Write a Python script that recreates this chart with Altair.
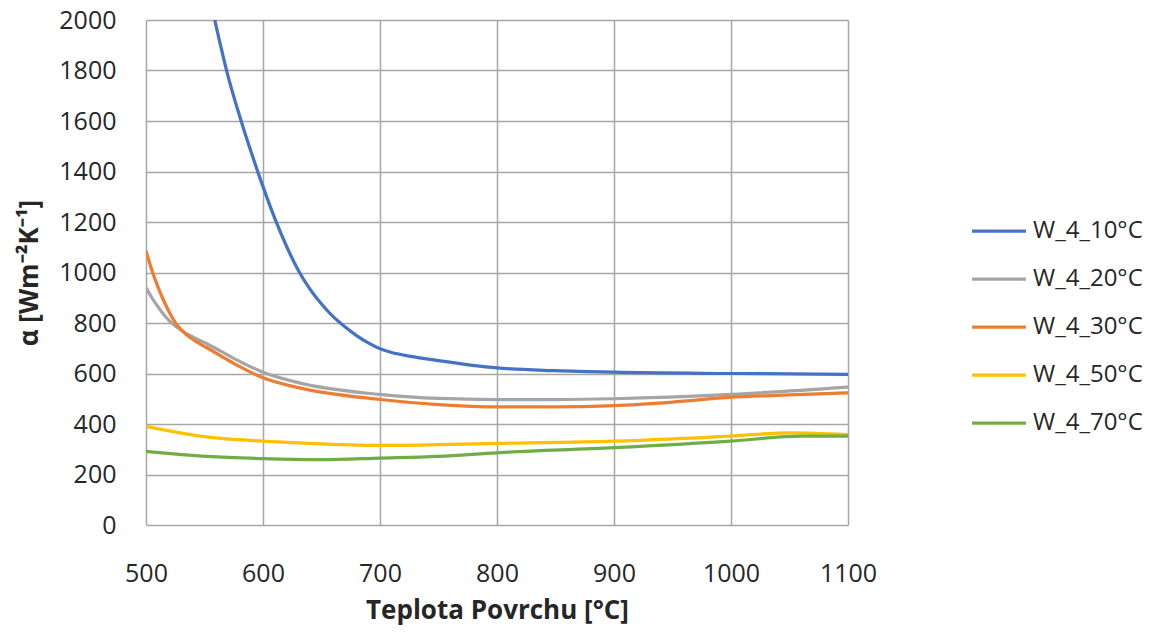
import altair as alt
import pandas as pd

series_names = ["W_4_10°C", "W_4_20°C", "W_4_30°C", "W_4_50°C", "W_4_70°C"]
series_colors = ["#4472C4", "#A5A5A5", "#ED7D31", "#FFC000", "#70AD47"]

t_10 = [550, 560, 570, 580, 590, 600, 610, 620, 630, 640, 650, 660, 670, 680, 690, 700,
        710, 725, 750, 800, 850, 900, 1000, 1100]
v_10 = [2190, 1975, 1780, 1620, 1475, 1340, 1215, 1105, 1010, 935, 875, 825, 785, 750, 721, 698,
        683, 669, 651, 622, 611, 605, 600, 597]

t_20 = [500, 505, 510, 515, 520, 526, 535, 545, 552, 575, 600, 631, 700, 750, 800, 850, 900, 1000, 1100]
v_20 = [940, 900, 866, 835, 808, 785, 757, 733, 718, 660, 605, 563, 517, 501, 497, 497, 500, 517, 546]

t_30 = [500, 505, 510, 515, 520, 526, 535, 545, 552, 575, 600, 631, 700, 750, 800, 850, 900, 950, 1000, 1050, 1100]
v_30 = [1085, 1010, 945, 890, 842, 795, 752, 720, 702, 640, 583, 543, 497, 477, 468, 468, 473, 487, 506, 515, 523]

t_50 = [500, 552, 600, 631, 700, 750, 800, 900, 1000, 1050, 1100]
v_50 = [391, 349, 332, 325, 315, 318, 323, 332, 352, 365, 358]

t_70 = [500, 552, 600, 650, 700, 750, 800, 900, 1000, 1060, 1100]
v_70 = [292, 272, 263, 259, 265, 272, 286, 306, 332, 352, 352]

rows = []
for name, ts, vs in zip(series_names, [t_10, t_20, t_30, t_50, t_70], [v_10, v_20, v_30, v_50, v_70]):
    for t, v in zip(ts, vs):
        rows.append({"T": t, "alpha": v, "series": name})
df = pd.DataFrame(rows)

font = "Open Sans"
txt = "#262626"

chart = alt.Chart(df).mark_line(interpolate="monotone", strokeWidth=3.25, clip=True).encode(
    x=alt.X("T:Q",
            scale=alt.Scale(domain=[500, 1100], nice=False, zero=False),
            axis=alt.Axis(values=[500, 600, 700, 800, 900, 1000, 1100], format="d",
                          title="Teplota Povrchu [°C]", titleFontWeight="bold",
                          titleFontSize=26, titlePadding=11, labelFontSize=25,
                          labelPadding=36, tickSize=0, domain=False, labelFlush=False,
                          labelColor=txt, titleColor=txt)),
    y=alt.Y("alpha:Q",
            scale=alt.Scale(domain=[0, 2000], nice=False),
            axis=alt.Axis(values=list(range(0, 2001, 200)), format="d",
                          title="α [Wm⁻²K⁻¹]", titleFontWeight="bold",
                          titleFontSize=26, titlePadding=16, labelFontSize=25,
                          labelPadding=30, tickSize=0, domain=False,
                          labelColor=txt, titleColor=txt)),
    color=alt.Color("series:N",
                    scale=alt.Scale(domain=series_names, range=series_colors),
                    legend=alt.Legend(title=None, orient="none", legendX=824, legendY=182,
                                      symbolType="stroke", symbolSize=2900,
                                      symbolStrokeWidth=3.25, labelFontSize=24,
                                      labelColor=txt, rowPadding=7,
                                      labelOffset=5)),
    order=alt.Order("series:N"),
).properties(
    width=702, height=505,
    autosize=alt.AutoSizeParams(type="none"),
    padding={"left": 138, "top": 12, "right": 294, "bottom": 100},
).configure(font=font).configure_view(stroke=None).configure_axis(
    gridColor="#A6A6A6", gridWidth=1.5, gridOpacity=1
)

chart.save("out.html", embed_options={"renderer": "svg", "actions": False})
